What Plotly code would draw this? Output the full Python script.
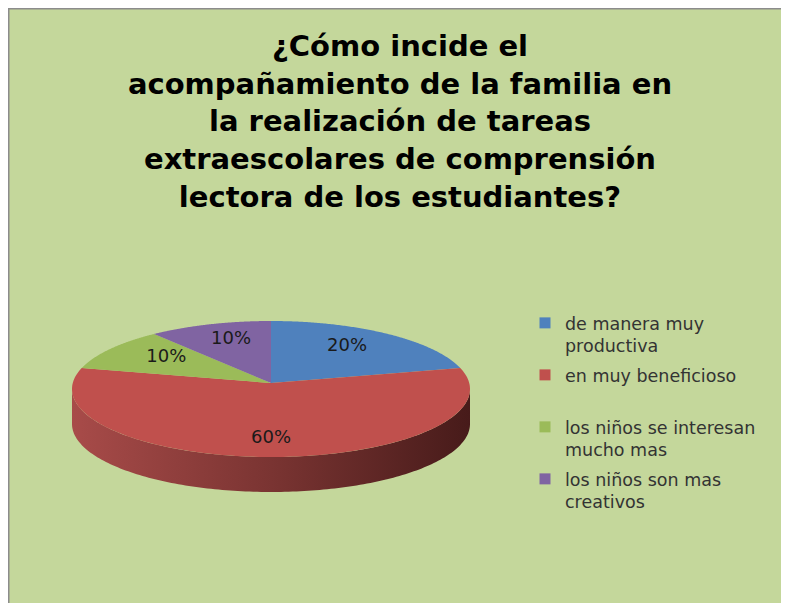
import numpy as np
import plotly.graph_objects as go

# ---- data ----
categories = ["de manera muy<br>productiva", "en muy beneficioso",
              "los niños se interesan<br>mucho mas", "los niños son mas<br>creativos"]
values = [20, 60, 10, 10]
labels = ["20%", "60%", "10%", "10%"]
colors = ["#4F81BD", "#C0504D", "#9BBB59", "#8064A2"]
title_lines = ["¿Cómo incide el", "acompañamiento de la familia en",
               "la realización de tareas", "extraescolares de comprensión",
               "lectora de los estudiantes?"]

W, H = 789, 603
OFF = 8  # page offset of the figure
cx, cy, rx, ry, depth = 271, 389, 199, 68, 35
apx, apy = 271, 383

def ell(theta_deg, dy=0.0):
    t = np.radians(theta_deg)
    return cx + rx * np.sin(t), cy - ry * np.cos(t) + dy

fig = go.Figure()
total = sum(values)
bounds = np.concatenate([[0], np.cumsum(values)]) / total * 360.0

# sides (front half only: 90..270 deg)
side_scale = [[0, "#A84B49"], [0.5, "#7A3432"], [1, "#471B1A"]]
for i in range(len(values)):
    a, b = max(bounds[i], 90), min(bounds[i + 1], 270)
    if a >= b:
        continue
    th = np.linspace(a, b, 160)
    xt, yt = ell(th)
    xb, yb = ell(th[::-1], dy=depth)
    fig.add_trace(go.Scatter(
        x=np.concatenate([xt, xb]), y=np.concatenate([yt, yb]),
        fill="toself", mode="none", hoverinfo="skip", showlegend=False,
        fillgradient=dict(type="horizontal", colorscale=side_scale)))

# top faces
for i in range(len(values)):
    th = np.linspace(bounds[i], bounds[i + 1], 160)
    xs, ys = ell(th)
    fig.add_trace(go.Scatter(
        x=np.concatenate([[apx], xs, [apx]]), y=np.concatenate([[apy], ys, [apy]]),
        fill="toself", fillcolor=colors[i], mode="none",
        name=categories[i].replace("<br>", " "), hoverinfo="name", showlegend=False))

# data labels
mids = (bounds[:-1] + bounds[1:]) / 2
ex, ey = ell(mids)
fx, fy = 0.65, 0.75
lx, ly = apx + fx * (ex - apx), apy + fy * (ey - apy)
fig.add_trace(go.Scatter(x=lx, y=ly, mode="text", text=labels,
                         textfont=dict(family="DejaVu Sans", size=18, color="#1a1a1a"),
                         hoverinfo="skip", showlegend=False))

# legend entries (one legend box per entry, Excel-like spacing)
leg_tops = [297, 349, 401, 453]
legend_layouts = {}
for i in range(len(values)):
    key = "legend" if i == 0 else f"legend{i+1}"
    fig.add_trace(go.Scatter(x=[None], y=[None], mode="markers", name=categories[i],
                             marker=dict(symbol="square", size=11, color=colors[i]),
                             legend=key, showlegend=True))
    legend_layouts[key] = dict(x=517 / W, xanchor="left", y=1 - leg_tops[i] / H,
                               yanchor="top", bgcolor="rgba(0,0,0,0)",
                               font=dict(family="DejaVu Sans", size=17.5, color="#333333"),
                               valign="top", itemclick=False, itemdoubleclick=False)

fig.update_layout(
    width=W, height=H, margin=dict(l=0, r=0, t=0, b=0),
    paper_bgcolor="#C4D79B", plot_bgcolor="rgba(0,0,0,0)",
    xaxis=dict(range=[OFF, W + OFF], visible=False, fixedrange=True),
    yaxis=dict(range=[H + OFF, OFF], visible=False, fixedrange=True),
    title=dict(text="<b>" + "<br>".join(title_lines) + "</b>",
               x=(400 - OFF) / W, xanchor="center", y=1 - 48 / H, yanchor="top",
               font=dict(family="DejaVu Sans", size=29, color="black")),
    shapes=[
        dict(type="line", xref="paper", yref="paper", x0=0, x1=1, y0=1, y1=1,
             line=dict(color="#8C8C8C", width=3)),
        dict(type="line", xref="paper", yref="paper", x0=0, x1=0, y0=0, y1=1,
             line=dict(color="#8C8C8C", width=3)),
    ],
    **legend_layouts,
)

fig.write_html("out.html")
